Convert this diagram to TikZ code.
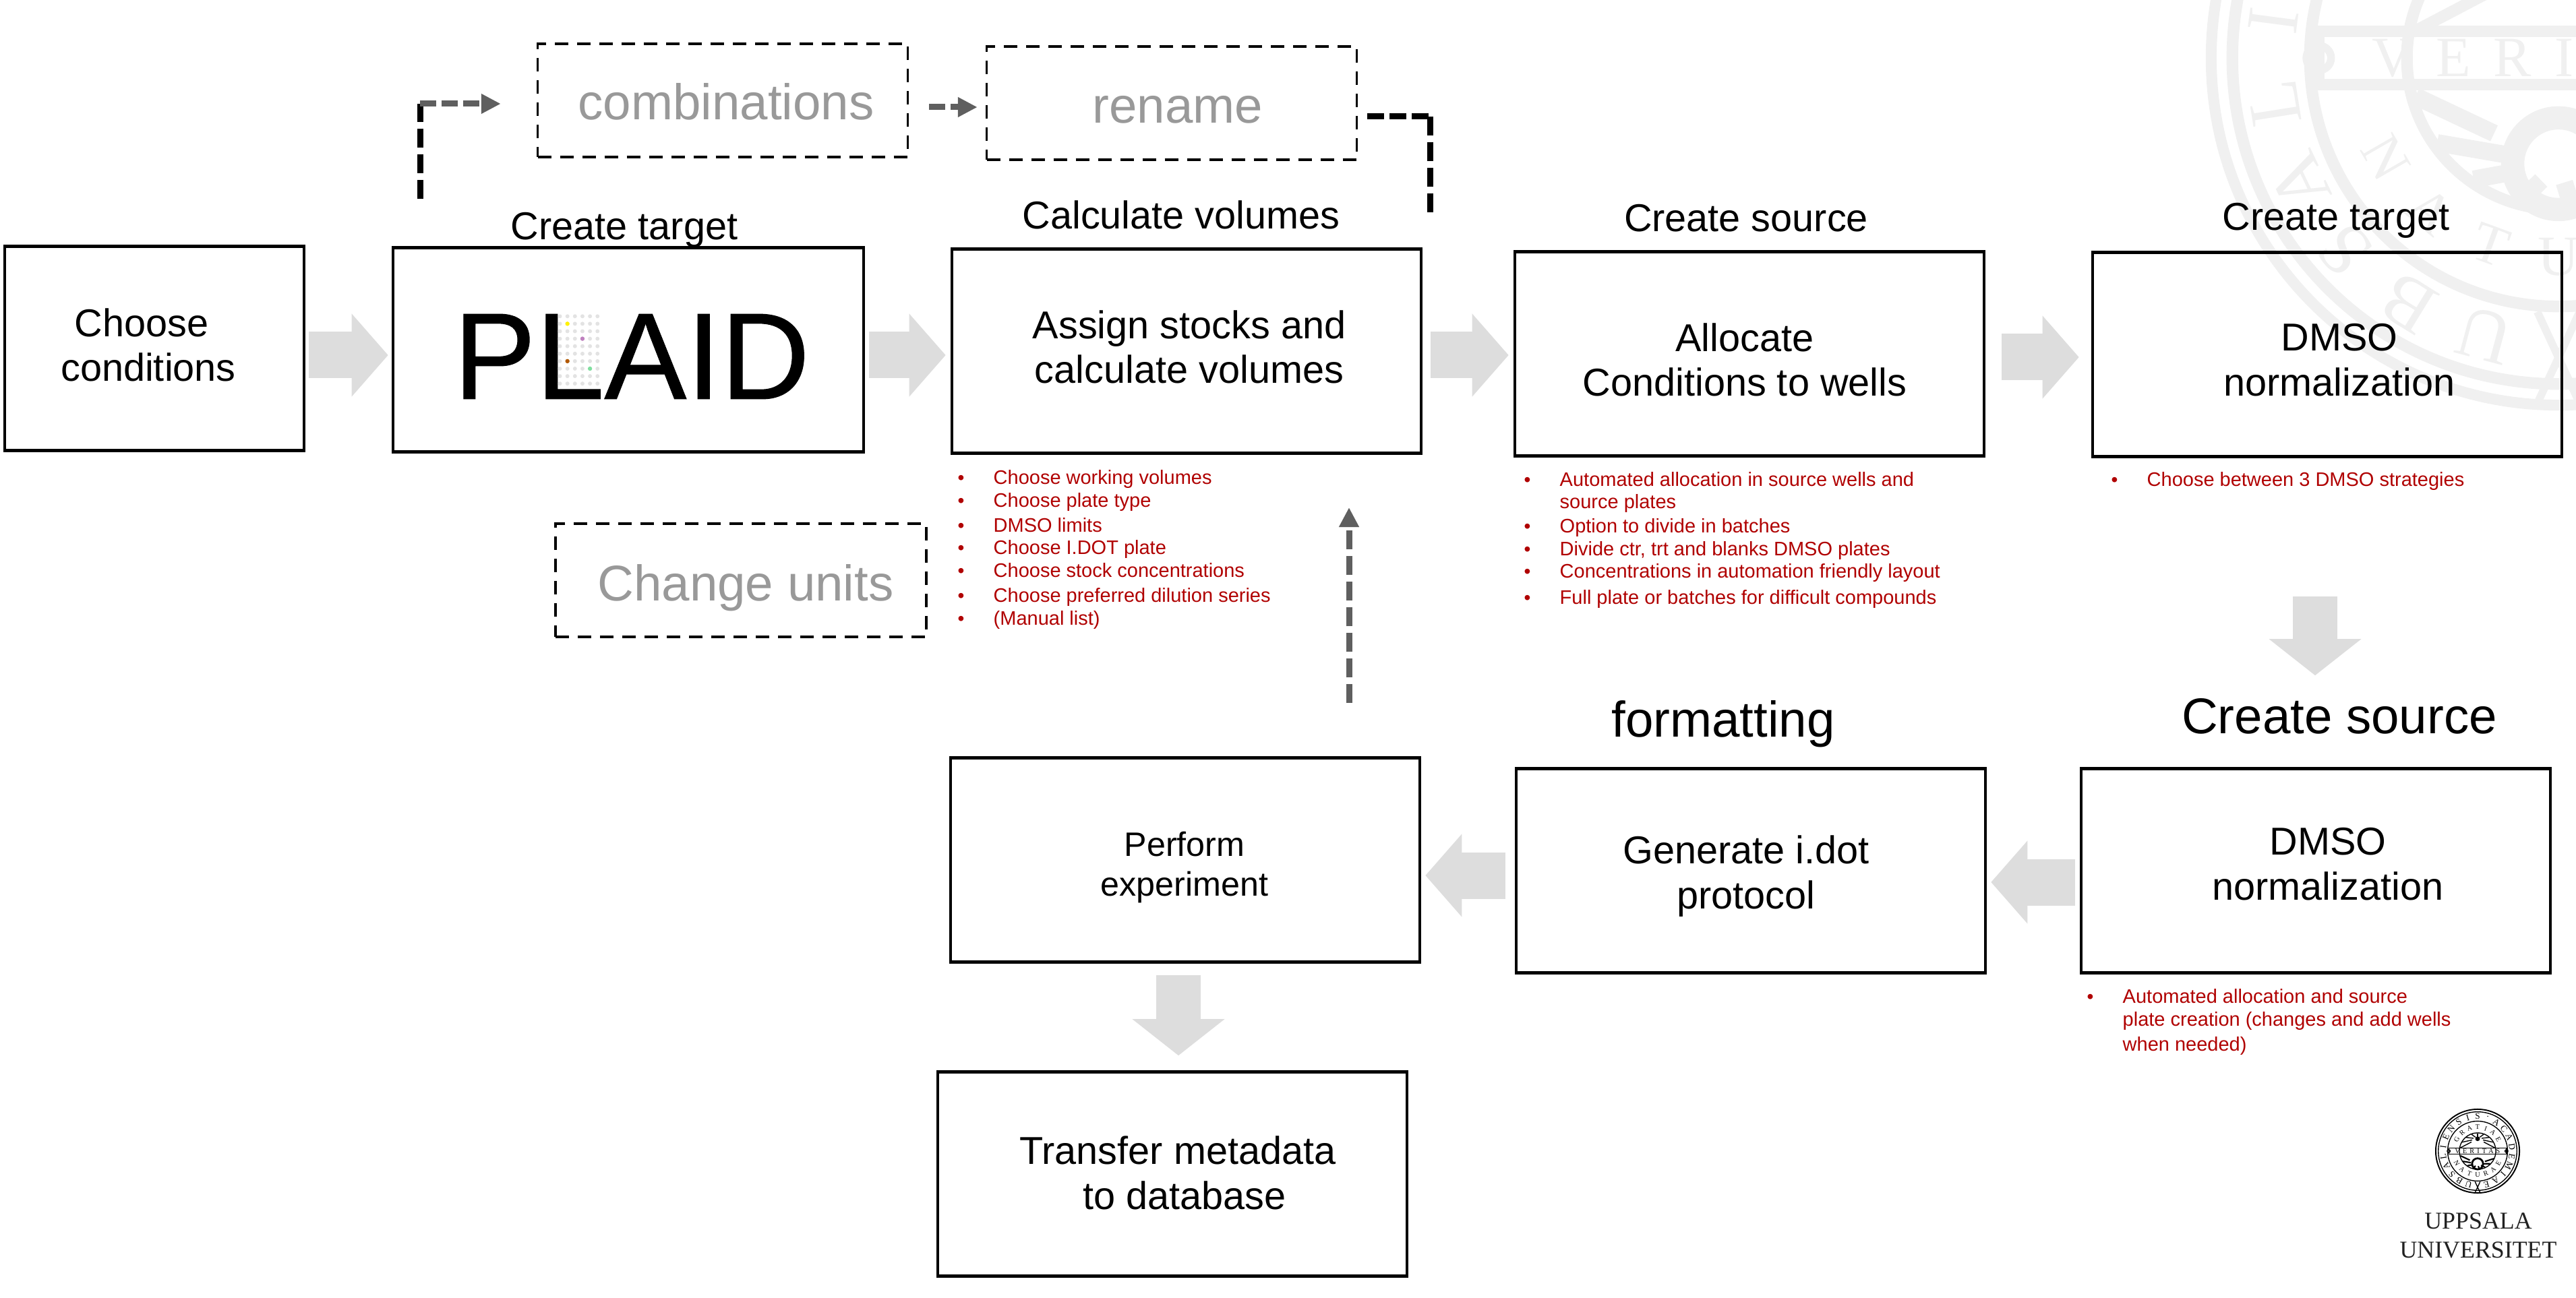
\documentclass[tikz,border=0pt]{standalone}
\usepackage{fontspec}
\setmainfont{Liberation Sans}
\newfontfamily\uufont{Liberation Serif}
\usetikzlibrary{positioning}
\usetikzlibrary{arrows.meta}
\usetikzlibrary{calc}
\definecolor{flowgray}{HTML}{DDDDDD}
\definecolor{darkarrow}{HTML}{5F5F5F}
\definecolor{fadetext}{HTML}{999999}
\definecolor{notered}{HTML}{B00000}
\definecolor{sealgray}{HTML}{F0F0F0}
\tikzset{stage/.style={draw,line width=1.3pt,minimum width=6.96cm,minimum height=3.03cm,inner sep=0pt}}
\tikzset{dstage/.style={draw,line width=1pt,dash pattern=on 0.2cm off 0.13cm,minimum width=5.49cm,minimum height=1.68cm,inner sep=0pt}}
\tikzset{txt/.style={align=center,inner sep=0pt,font=\fontsize{16.4}{19}\selectfont}}
\tikzset{hd/.style={inner sep=0pt,font=\fontsize{16.4}{18.8}\selectfont}}
\tikzset{bighd/.style={inner sep=0pt,font=\fontsize{21.2}{24}\selectfont}}
\tikzset{gtxt/.style={inner sep=0pt,text=fadetext,font=\fontsize{21.2}{24}\selectfont}}
\tikzset{itm/.style={anchor=base west,inner sep=0pt,text=notered,font=\fontsize{8.25}{10}\selectfont}}
\tikzset{flow/.style={draw=flowgray,line width=0.69cm,-{Triangle[length=0.54cm,width=1.2cm]}}}
\tikzset{dflow/.style={draw=flowgray,line width=0.66cm,-{Triangle[length=0.54cm,width=1.34cm]}}}
\tikzset{dblack/.style={draw=black,line width=0.09cm,dash pattern=on 0.28cm off 0.1cm}}
\tikzset{dgray/.style={draw=darkarrow,line width=0.09cm,dash pattern=on 0.24cm off 0.08cm,-{Triangle[length=0.29cm,width=0.28cm]}}}
\tikzset{plaiddot/.style={fill=#1,draw=none}}
\newcommand{\bl}{\makebox[0.53cm][l]{\fontsize{8}{8}\selectfont\textbullet}}
\newcommand{\nb}{\hspace*{0.53cm}}
% letters round the seal: letters, radius, first angle, step, tilt, size, colour
\newcommand{\ringtext}[7]{
\foreach \ch [count=\i from 0] in {#1} {
\pgfmathsetmacro{\ang}{#3-\i*#4}
\node[inner sep=0pt,text=#7,rotate=\ang+#5,font=\uufont\fontsize{#6}{#6}\selectfont] (ltr\i) at (\ang:#2) {\ch};
}
}
% seal: centre, radius in cm, colour, weight of the inner lines
\newcommand{\sealmark}[4]{
\pgfmathsetmacro{\sfa}{5.97*#2}
\pgfmathsetmacro{\sfb}{4.6*#2}
\pgfmathsetmacro{\slw}{0.022*#2}
\begin{scope}[shift={#1},scale=#2,draw=#3,line width=\slw cm]
\draw[line width=1.4*\slw cm] (0,0) circle (0.985);
\draw[line width=#4*\slw cm] (0,0) circle (0.925);
\draw[line width=#4*\slw cm] (0,0) circle (0.705);
\draw[line width=#4*\slw cm] (0,0) circle (0.43);
\draw[line width=#4*\slw cm] (-0.68,-0.075) rectangle (0.68,0.075);
\draw (-0.68,0) circle (0.035);
\draw (0.68,0) circle (0.035);
\draw[line width=#4*2*\slw cm] (0,-0.3) circle (0.13);
\fill[#3] (0,0.29) circle (0.055);
\foreach \a in {10,30,...,170} \draw[line width=#4*\slw cm] ($(0,0.29)!0.35!(\a:0.42)$) -- (\a:0.42);
\foreach \a in {195,215,...,345} \draw[line width=#4*1.5*\slw cm] ($(0,-0.3)!0.45!(\a:0.42)$) -- (\a:0.42);
\draw (-0.06,-0.98) -- (0.06,-0.72);
\draw (0.06,-0.98) -- (-0.06,-0.72);
\ringtext{U,B,S,A,L,I,E,N,S,I,S,·,A,C,A,D,E,M,I,A,E}{0.815}{255}{16.5}{-90}{\sfa}{#3}
\ringtext{G,R,A,T,I,A,E}{0.565}{150}{20}{-90}{\sfb}{#3}
\ringtext{N,A,T,U,R,A,E}{0.565}{210}{-20}{90}{\sfb}{#3}
\node[inner sep=0pt,text=#3,font=\uufont\fontsize{\sfb}{\sfb}\selectfont\addfontfeature{LetterSpace=40}] (veritas) at (0,0) {VERITAS};
\end{scope}
}

\begin{document}
\begin{tikzpicture}
\useasboundingbox (0,0) rectangle (38.21,-19.26);

\begin{scope}
\clip (0,0) rectangle (38.21,-19.26);
\sealmark{(37.95,-0.86)}{5.23}{sealgray}{1.5}
\end{scope}
\sealmark{(36.75,-17.08)}{0.63}{black}{1}
\node[align=center,inner sep=0pt,text=black!87,font=\uufont\fontsize{10.2}{12.2}\selectfont] (uu) at (36.76,-18.33) {UPPSALA\\UNIVERSITET};

\node[stage,minimum width=4.44cm] (choose) at (2.29,-5.17) {};
\node[stage,minimum width=6.98cm] (plaid) at (9.32,-5.19) {};
\node[stage] (assign) at (17.6,-5.21) {};
\node[stage] (allocate) at (25.95,-5.25) {};
\node[stage] (dmsoa) at (34.52,-5.26) {};
\node[stage] (dmsob) at (34.35,-12.92) {};
\node[stage] (generate) at (25.97,-12.92) {};
\node[stage] (perform) at (17.58,-12.76) {};
\node[stage] (transfer) at (17.39,-17.42) {};

\node[dstage] (combos) at (10.72,-1.49) {};
\node[dstage] (rename) at (17.38,-1.53) {};
\node[dstage,minimum width=5.5cm] (units) at (10.99,-8.61) {};

\node[txt] (choosetxt) at (2.1,-5.12) {Choose\\\hspace*{0.2cm}conditions};
\node[txt] (assigntxt) at (17.64,-5.15) {Assign stocks and\\calculate volumes};
\node[txt] (allocatetxt) at (25.88,-5.34) {Allocate\\Conditions to wells};
\node[txt] (dmsoatxt) at (34.7,-5.34) {DMSO\\normalization};
\node[txt] (dmsobtxt) at (34.53,-12.82) {DMSO\\normalization};
\node[txt] (generatetxt) at (25.9,-13) {Generate i.dot\\protocol};
\node[txt,font=\fontsize{14.3}{16.6}\selectfont] (performtxt) at (17.57,-12.87) {Perform\\experiment};
\node[txt] (transfertxt) at (17.47,-17.4) {Transfer metadata\\\hspace*{0.2cm}to database};

\node[gtxt] (combostxt) at (10.77,-1.51) {combinations};
\node[gtxt] (renametxt) at (17.47,-1.63) {rename};
\node[gtxt] (unitstxt) at (11.06,-8.72) {Change units};

\node[hd] (targeta) at (9.26,-3.41) {Create target};
\node[hd] (volumes) at (17.52,-3.19) {Calculate volumes};
\node[hd] (sourcea) at (25.9,-3.24) {Create source};
\node[hd] (targetb) at (34.65,-3.27) {Create target};
\node[bighd] (sourceb) at (34.7,-10.63) {Create source};
\node[bighd] (formatting) at (25.56,-10.74) {formatting};

\node[inner sep=0pt,font=\fontsize{52}{60}\selectfont\addfontfeature{FakeBold=0.6}] (logo) at (9.37,-5.29) {PLAID};
\foreach \c in {0,...,5}
\foreach \r in {0,...,9}
\fill[plaiddot=black!11] ({8.305+\c*0.1115},{-4.693-\r*0.111}) circle (0.03);
\fill[plaiddot=yellow] ({8.305+0.1115},{-4.693-0.111}) circle (0.032);
\fill[plaiddot=violet!50] ({8.305+3*0.1115},{-4.693-3*0.111}) circle (0.032);
\fill[plaiddot=orange!70!black] ({8.305+0.1115},{-4.693-6*0.111}) circle (0.032);
\fill[plaiddot=teal!50!green!50] ({8.305+4*0.1115},{-4.693-7*0.111}) circle (0.032);

\draw[flow,shorten <=0.05cm,shorten >=0.05cm] ([yshift=-0.1cm]choose.east) -- ([yshift=-0.1cm]choose.east -| plaid.west);
\draw[flow,shorten <=0.06cm,shorten >=0.07cm] ([yshift=-0.08cm]plaid.east) -- ([yshift=-0.08cm]plaid.east -| assign.west);
\draw[flow,shorten <=0.12cm,shorten >=0.07cm] ([yshift=-0.06cm]assign.east) -- ([yshift=-0.06cm]assign.east -| allocate.west);
\draw[flow,shorten <=0.24cm,shorten >=0.18cm] ([yshift=-0.05cm]allocate.east) -- ([yshift=-0.05cm]allocate.east -| dmsoa.west);
\draw[dflow,shorten <=2.05cm,shorten >=1.36cm] ([xshift=-0.18cm]dmsoa.south) -- ([xshift=-0.18cm]dmsoa.south |- dmsob.north);
\draw[flow,shorten <=0.07cm,shorten >=0.06cm] ([yshift=-0.17cm]dmsob.west) -- ([yshift=-0.17cm]dmsob.west -| generate.east);
\draw[flow,shorten <=0.14cm,shorten >=0.06cm] ([yshift=-0.07cm]generate.west) -- ([yshift=-0.07cm]generate.west -| perform.east);
\draw[dflow,shorten <=0.17cm,shorten >=0.22cm] ([xshift=-0.1cm]perform.south) -- ([xshift=-0.1cm]perform.south |- transfer.north);

\coordinate (upa) at (6.23,-2.95);
\coordinate (upb) at (6.23,-1.54);
\draw[dblack] (upa) -- (upb);
\draw[dgray,shorten >=0.53cm] (upb) -- (upb -| combos.west);

\draw[dgray,shorten <=0.3cm,shorten >=0.12cm] ([yshift=-0.1cm]combos.east) -- ([yshift=-0.1cm]combos.east -| rename.west);

\coordinate (dnb) at (21.21,-1.73);
\coordinate (dnc) at (21.21,-3.18);
\draw[dblack,dash pattern=on 0.25cm off 0.08cm,shorten <=0.14cm] (rename.east |- dnb) -- (dnb);
\draw[dblack] (dnb) -- (dnc);

\coordinate (upc) at (20.01,-10.43);
\coordinate (upd) at (20.01,-7.53);
\draw[dgray,dash pattern=on 0.28cm off 0.1cm] (upc) -- (upd);

\foreach \y/\t [count=\i] in {7.18/\bl Choose working volumes,7.52/\bl Choose plate type,7.89/\bl DMSO limits,8.22/\bl Choose I.DOT plate,8.56/\bl Choose stock concentrations,8.93/\bl Choose preferred dilution series,9.27/\bl (Manual list)}
\node[itm] (vol\i) at (14.2,-\y) {\t};

\foreach \y/\t [count=\i] in {7.21/\bl Automated allocation in source wells and,7.54/\nb source plates,7.90/\bl Option to divide in batches,8.24/{\bl Divide ctr, trt and blanks DMSO plates},8.57/\bl Concentrations in automation friendly layout,8.96/\bl Full plate or batches for difficult compounds}
\node[itm] (well\i) at (22.6,-\y) {\t};

\node[itm] (strat) at (31.31,-7.21) {\bl Choose between 3 DMSO strategies};

\foreach \y/\t [count=\i] in {14.88/\bl Automated allocation and source,15.22/\nb plate creation (changes and add wells,15.59/\nb when needed)}
\node[itm] (auto\i) at (30.95,-\y) {\t};

\end{tikzpicture}
\end{document}
